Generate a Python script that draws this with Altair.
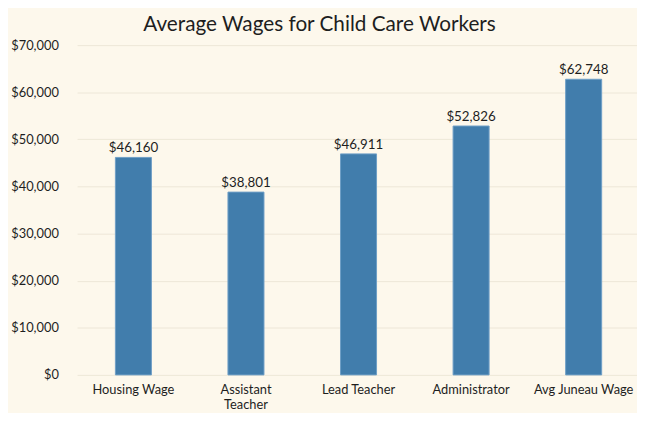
import altair as alt
import pandas as pd

categories = ["Housing Wage", "Assistant Teacher", "Lead Teacher", "Administrator", "Avg Juneau Wage"]
wages = [46160, 38801, 46911, 52826, 62748]
y_ticks = [0, 10000, 20000, 30000, 40000, 50000, 60000, 70000]

df = pd.DataFrame({"category": categories, "wage": wages})

FONT = "Lato"
TEXT = "#1e1e1e"
BG = "#fdf8ec"

x_enc = alt.X(
    "category:N",
    sort=categories,
    title=None,
    scale=alt.Scale(paddingInner=0.68, paddingOuter=0.327, align=0.52),
    axis=alt.Axis(
        labelAngle=0,
        ticks=False,
        domain=False,
        labelPadding=9,
        labelFontSize=13,
        labelColor=TEXT,
        labelFont=FONT,
        labelExpr="datum.label == 'Assistant Teacher' ? ['Assistant', 'Teacher'] : datum.label",
        labelLineHeight=15,
    ),
)
y_enc = alt.Y(
    "wage:Q",
    title=None,
    scale=alt.Scale(domain=[0, 70000], nice=False),
    axis=alt.Axis(
        values=y_ticks,
        format="$,.0f",
        ticks=False,
        domain=False,
        labelPadding=19,
        labelFontSize=13,
        labelColor=TEXT,
        labelFont=FONT,
        gridColor="#ede7d7",
        gridWidth=1,
    ),
)

base = alt.Chart(df).encode(x=x_enc, y=y_enc)

bars = base.mark_bar(color="#417dac", stroke="#6f9ec6", strokeWidth=1)
labels = base.mark_text(
    baseline="alphabetic", dy=-5, fontSize=13.5, font=FONT, color=TEXT
).encode(text=alt.Text("wage:Q", format="$,.0f"))

chart = (
    alt.layer(bars, labels)
    .properties(
        width=567,
        height=334,
        padding={"left": 70, "top": 35, "right": 0, "bottom": 36},
        autosize=alt.AutoSizeParams(type="none"),
        background=BG,
        title=alt.TitleParams(
            "Average Wages for Child Care Workers",
            anchor="middle",
            fontSize=21,
            font=FONT,
            fontWeight="normal",
            color=TEXT,
            dx=-38,
            offset=4,
        ),
    )
    .configure_view(stroke=None, fill=BG)
)

chart.save("out.html", embed_options={"renderer": "svg", "actions": False})
